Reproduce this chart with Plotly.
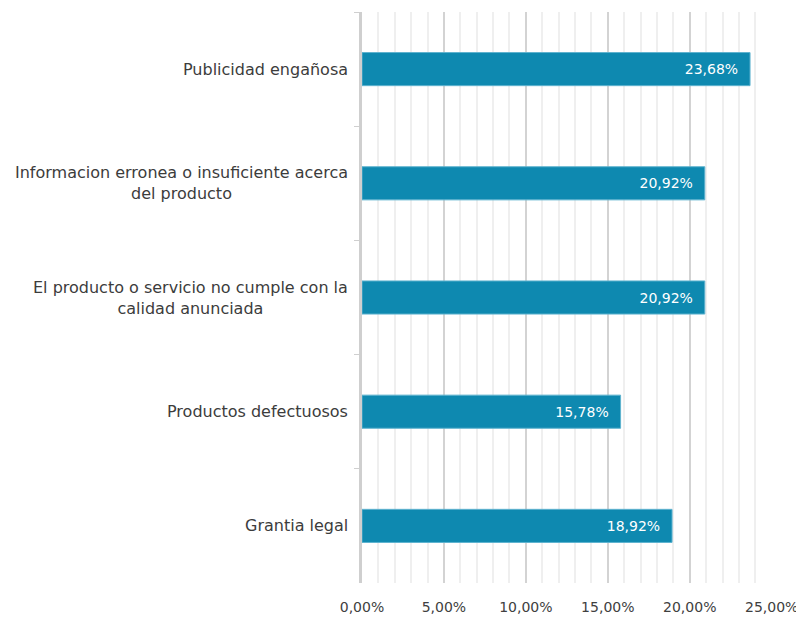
import plotly.graph_objects as go

categorias = [
    "Publicidad engañosa",
    "Informacion erronea o insuficiente acerca<br>del producto",
    "El producto o servicio no cumple con la<br>calidad anunciada",
    "Productos defectuosos",
    "Grantia legal",
]
porcentajes = [0.2368, 0.2092, 0.2092, 0.1578, 0.1892]

fuente = "DejaVu Sans, Roboto, sans-serif"
azul = "#0e89b0"

fig = go.Figure(go.Bar(
    x=porcentajes,
    y=categorias,
    orientation="h",
    marker=dict(color=azul, line=dict(color="#5fb3cf", width=1)),
    texttemplate="%{x:.2%}\u00a0\u00a0",
    textposition="inside",
    insidetextanchor="end",
    textfont=dict(color="white", size=14, family=fuente),
))

# etiquetas de categoria centradas (como en el original)
for cat in categorias:
    fig.add_annotation(
        x=0, xref="paper", y=cat, yref="y",
        text=cat, showarrow=False, xanchor="right", align="center",
        xshift=-12, font=dict(size=16, color="#3c3c3c", family=fuente),
    )

fig.update_layout(
    width=796, height=610,
    margin=dict(l=354, r=32, t=4, b=35),
    paper_bgcolor="white", plot_bgcolor="white",
    separators=",.",
    bargap=0.71,
    showlegend=False,
    font=dict(family=fuente, color="#404040"),
)
fig.update_xaxes(
    range=[0, 0.2502], tick0=0, dtick=0.05, tickformat=".2%",
    showgrid=True, gridcolor="#d3d3d3", gridwidth=2,
    minor=dict(dtick=0.01, showgrid=True, gridcolor="#efefef", gridwidth=2),
    zeroline=False, showline=False, automargin=False,
    ticklabeloverflow="allow", ticklabelstandoff=14,
    tickfont=dict(size=14, color="#404040"),
)
fig.update_yaxes(
    autorange="reversed",
    showticklabels=False, automargin=False,
    showline=True, linecolor="#cfcfcf", linewidth=3,
    ticks="outside", tickson="boundaries", ticklen=5, tickcolor="#cfcfcf",
    showgrid=False,
)

fig.write_html("out.html")
